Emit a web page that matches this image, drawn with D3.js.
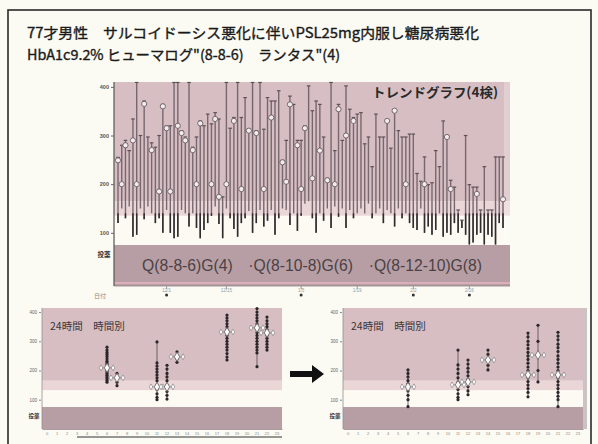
<!DOCTYPE html>
<html><head><meta charset="utf-8">
<script src="https://cdn.jsdelivr.net/npm/d3@7"></script>
<style>body{margin:0;background:#fbfaf3;}svg{display:block}</style>
</head><body>
<svg id="c" width="598" height="444"></svg>
<script>
// ---- header text ----
const titleLine1 = "77才男性　サルコイドーシス悪化に伴いPSL25mg内服し糖尿病悪化";
const titleLine2 = "HbA1c9.2% ヒューマログ\"(8-8-6)　ランタス\"(4)";
const trendTitle = "トレンドグラフ(4検)";
const regimenText = "Q(8-8-6)G(4)　·Q(8-10-8)G(6)　·Q(8-12-10)G(8)";
const dailyTitle = "24時間　時間別";

// ---- trend graph: daily high / low glucose and marked reading (mg/dL) ----
const stemHigh = [
  255,280,290,269,334,409,300,371,297,285,
  276,300,364,320,320,409,409,310,297,409,
  276,297,330,320,344,324,347,334,174,409,
  315,337,409,337,378,313,409,310,409,313,
  378,371,371,392,249,290,381,364,290,290,
  320,402,351,371,364,297,212,409,269,364,
  290,402,354,337,344,
  347,283,297,236,344,297,297,330,274,351,
  310,297,297,303,303,222,206,256,199,203,
  269,236,330,297,208,194,147,126,300,199,
  194,194,147,236,147,147,256,256,256
];
const stemLow = [
  120,150,130,154,92,96,150,128,154,140,
  120,130,100,147,100,89,92,147,140,113,
  140,110,89,106,120,135,154,118,89,150,
  130,108,92,120,130,145,100,120,147,113,
  125,147,96,130,150,147,116,140,104,135,
  160,165,130,100,140,125,150,110,154,133,
  150,110,147,130,140,
  150,140,160,130,140,150,120,147,140,113,
  150,130,140,120,110,106,150,100,113,96,
  106,140,92,100,96,120,100,110,96,76,
  80,96,100,76,96,92,76,120,110
];
const stemMark = [
  249,200,280,null,290,200,null,365,null,270,
  null,185,360,315,185,null,320,305,290,null,
  270,200,325,null,null,200,334,174,null,200,
  null,330,null,190,null,310,null,305,null,190,
  null,337,null,null,245,205,364,null,280,190,
  315,null,212,null,269,null,208,null,200,354,
  null,300,null,330,null,
  null,null,null,null,null,null,null,330,null,351,
  null,null,200,null,null,null,null,200,null,null,
  null,null,null,297,190,null,null,null,null,null,
  null,180,null,null,null,null,null,null,169
];
const valueTicks = [100, 200, 300, 400];
const dateTickIndex = [13, 29, 49, 64, 79, 94];
const dateTickLabels = ["12/1", "12/15", "1/5", "1/19", "2/2", "2/16"];
const visitMarks = [true, false, true, false, true, true];

// ---- 24h profiles by hour, before and after the regimen change ----
const hourLabels = ["0","1","2","3","4","5","6","7","8","9","10","11",
                    "12","13","14","15","16","17","18","19","20","21","22","23"];
const beforeHours = ["6","7","11","12","13","18","21","22"];
const beforeReadings = [
  [280,270,262,255,248,240,232,226,220,214,208,202,196,190,184,178,172,166,160],
  [190,175,160,148],
  [298,226,215,205,195,185,175,165,150,135,120,108,100],
  [218,205,190,178,165,150,140,128,115,102],
  [264,250,240,228],
  [390,380,370,360,350,340,330,320,310,300,290,280,270,258,246,236],
  [412,400,390,380,370,360,350,340,330,320,310,300,290,280,270,260,213],
  [383,370,360,350,340,330,320,310,300,290,280,270]
];
const beforeMean = [209, 175, 144, 144, 247, 332, 346, 329];
const afterHours = ["6","11","12","14","18","19","21"];
const afterReadings = [
  [202,190,178,165,155,145,130,115,100,76],
  [270,219,205,190,175,160,148,135,120,108,100],
  [236,222,208,195,182,170,158,145,130,117],
  [270,255,236,218,202],
  [328,315,300,288,275,262,250,238,225,212,200,188,175,162,150,138,125,110],
  [355,300,253,200,161],
  [331,318,305,290,278,265,250,238,225,212,200,188,175,162,150,138,125,112,100,76]
];
const afterMean = [144, 151, 161, 236, 185, 253, 185];

// ---- colours ----
const C = {
  page: "#fbfaf3", pink: "#d6bec2", pinkLight: "#ead5d7", white: "#fcfaf3",
  band: "#b79ea4", stem: "#776870", stemDark: "#2f2a2c", text: "#1a1a1a"
};
const JP = "'Noto Sans CJK JP','Noto Sans',sans-serif";
const SANS = "'Liberation Sans',Arial,sans-serif";

const svg = d3.select("#c");
svg.append("rect").attr("width", 598).attr("height", 444).attr("fill", C.page);

// slide frame
svg.append("rect").attr("x", 8).attr("y", 10).attr("width", 583).attr("height", 445)
  .attr("fill", "none").attr("stroke", "#2a2a2a").attr("stroke-width", 1.6);

// title
[[titleLine1, 38, 452], [titleLine2, 60, 313]].forEach(([t, y, w]) =>
  svg.append("text").attr("x", 27).attr("y", y).attr("font-family", JP).attr("font-size", 14)
    .attr("fill", C.text).attr("stroke", C.text).attr("stroke-width", 0.35)
    .attr("textLength", w).attr("lengthAdjust", "spacingAndGlyphs").text(t));

// ================= trend graph =================
const T = { left: 114, right: 510, top: 82, plotBottom: 245, bottom: 286 };
const yT = d3.scaleLinear().domain([75, 410]).range([T.plotBottom, T.top]).clamp(true);
const xT = d3.scaleLinear().domain([0, stemHigh.length - 1]).range([118, 503]);
const trend = svg.append("g");

// target-range shading
trend.append("rect").attr("x", T.left).attr("y", T.top).attr("width", T.right - T.left)
  .attr("height", yT(165) - T.top).attr("fill", C.pink);
trend.append("rect").attr("x", T.left).attr("y", yT(165)).attr("width", T.right - T.left)
  .attr("height", yT(135) - yT(165)).attr("fill", C.pinkLight);
trend.append("rect").attr("x", T.left).attr("y", yT(135)).attr("width", T.right - T.left)
  .attr("height", T.plotBottom - yT(135)).attr("fill", C.white);
trend.append("rect").attr("x", T.right - 6).attr("y", T.top).attr("width", 6)
  .attr("height", T.plotBottom - T.top).attr("fill", "#fff").attr("opacity", 0.25);

// insulin band
trend.append("rect").attr("x", T.left).attr("y", T.plotBottom).attr("width", T.right - T.left)
  .attr("height", T.bottom - T.plotBottom).attr("fill", C.band);
trend.append("rect").attr("x", T.left).attr("y", T.bottom - 4).attr("width", T.right - T.left)
  .attr("height", 2).attr("fill", "#dcb0ba");
trend.append("text").attr("x", 142).attr("y", 271).attr("font-family", SANS).attr("font-size", 17)
  .attr("fill", "#4a4245").attr("textLength", 340).attr("lengthAdjust", "spacingAndGlyphs")
  .text(regimenText);

// stems: grey over the whole range, darker where they reach the low zone
const stems = trend.append("g");
stemHigh.forEach((hi, i) => {
  const lo = stemLow[i], x = xT(i);
  stems.append("line").attr("x1", x).attr("x2", x).attr("y1", yT(lo)).attr("y2", yT(hi))
    .attr("stroke", C.stem).attr("stroke-width", 1.4);
  if (lo < 140) stems.append("line").attr("x1", x).attr("x2", x)
    .attr("y1", yT(lo)).attr("y2", yT(Math.min(hi, 140)))
    .attr("stroke", C.stemDark).attr("stroke-width", 1.5);
  stems.append("line").attr("x1", x - 1.8).attr("x2", x + 1.8).attr("y1", yT(hi)).attr("y2", yT(hi))
    .attr("stroke", "#5e5157").attr("stroke-width", 1.2);
});
stems.selectAll("circle").data(stemMark.map((v, i) => ({ v, i })).filter(d => d.v != null))
  .join("circle").attr("cx", d => xT(d.i)).attr("cy", d => yT(d.v)).attr("r", 2.6)
  .attr("fill", "#f3ecee").attr("stroke", "#6a5b61").attr("stroke-width", 0.9);

// axis
trend.append("line").attr("x1", T.left).attr("x2", T.left).attr("y1", T.top).attr("y2", T.bottom)
  .attr("stroke", "#555").attr("stroke-width", 1.2);
trend.append("line").attr("x1", T.left).attr("x2", T.right).attr("y1", T.bottom).attr("y2", T.bottom)
  .attr("stroke", "#8d8185").attr("stroke-width", 0.8);
trend.append("g").attr("transform", `translate(${T.left},0)`)
  .call(d3.axisLeft(yT).tickValues(valueTicks).tickSize(3).tickPadding(2))
  .call(g => g.select(".domain").remove())
  .call(g => g.selectAll("line").attr("stroke", "#666"))
  .call(g => g.selectAll("text").attr("font-size", 5.5).attr("font-weight", "bold")
    .attr("fill", "#555").attr("font-family", SANS));
trend.append("text").attr("x", 104).attr("y", 257).attr("text-anchor", "middle")
  .attr("font-family", JP).attr("font-size", 6.5).attr("font-weight", "bold").attr("fill", "#333").text("投薬");
trend.append("text").attr("x", 100).attr("y", 298).attr("text-anchor", "middle")
  .attr("font-family", JP).attr("font-size", 6).attr("fill", "#888").text("日付");
dateTickIndex.forEach((idx, k) => {
  const x = xT(idx);
  trend.append("line").attr("x1", x).attr("x2", x).attr("y1", T.bottom).attr("y2", T.bottom + 3)
    .attr("stroke", "#999");
  trend.append("text").attr("x", x).attr("y", 292).attr("text-anchor", "middle")
    .attr("font-family", SANS).attr("font-size", 4.5).attr("fill", "#999").text(dateTickLabels[k]);
  if (visitMarks[k]) trend.append("circle").attr("cx", x).attr("cy", 295).attr("r", 1.5).attr("fill", "#333");
});
trend.append("text").attr("x", 372).attr("y", 97).attr("font-family", JP).attr("font-size", 13)
  .attr("font-weight", "bold").attr("fill", "#2a2a2a").attr("textLength", 126)
  .attr("lengthAdjust", "spacingAndGlyphs").text(trendTitle);

// ================= 24h charts =================
function dailyChart(x0, hoursShown, readings, means, underline) {
  const P = { left: x0, right: x0 + 240, top: 308, plotBottom: 407, bottom: 429 };
  const y = d3.scaleLinear().domain([75, 414]).range([P.plotBottom, P.top]).clamp(true);
  const x = d3.scaleBand().domain(hourLabels).range([P.left, P.right]);
  const g = svg.append("g");
  g.append("rect").attr("x", P.left).attr("y", P.top).attr("width", 240)
    .attr("height", y(165) - P.top).attr("fill", C.pink);
  g.append("rect").attr("x", P.left).attr("y", y(165)).attr("width", 240)
    .attr("height", y(132) - y(165)).attr("fill", C.pinkLight);
  g.append("rect").attr("x", P.left).attr("y", y(132)).attr("width", 240)
    .attr("height", P.plotBottom - y(132)).attr("fill", C.white);
  g.append("rect").attr("x", P.left).attr("y", P.plotBottom).attr("width", 240)
    .attr("height", P.bottom - P.plotBottom).attr("fill", C.band);
  g.append("line").attr("x1", P.left).attr("x2", P.left).attr("y1", P.top).attr("y2", P.bottom)
    .attr("stroke", "#9a8c91").attr("stroke-width", 0.8);
  g.append("g").attr("transform", `translate(${P.left - 1},0)`)
    .call(d3.axisLeft(y).tickValues(valueTicks).tickSize(2).tickPadding(2))
    .call(a => a.select(".domain").remove())
    .call(a => a.selectAll("line").attr("stroke", "#888"))
    .call(a => a.selectAll("text").attr("font-size", 4.5).attr("fill", "#666").attr("font-family", SANS));
  g.append("text").attr("x", P.left - 8).attr("y", 418).attr("text-anchor", "middle")
    .attr("font-family", JP).attr("font-size", 5.5).attr("font-weight", "bold").attr("fill", "#333").text("投薬");
  g.append("g").attr("transform", `translate(0,${P.bottom})`)
    .call(d3.axisBottom(x).tickSize(0).tickPadding(3))
    .call(a => a.select(".domain").attr("stroke", "#a99ca0"))
    .call(a => a.selectAll("text").attr("font-size", 4).attr("fill", "#888").attr("font-family", SANS));
  if (underline) g.append("line").attr("x1", underline).attr("x2", P.right).attr("y1", 437).attr("y2", 437)
    .attr("stroke", "#333").attr("stroke-width", 1.2);
  g.append("text").attr("x", P.left + 8).attr("y", 330).attr("font-family", JP).attr("font-size", 10.5)
    .attr("fill", "#3c3538").text(dailyTitle);

  hoursShown.forEach((h, k) => {
    const cx = x(h) + x.bandwidth() / 2, vals = readings[k];
    g.append("line").attr("x1", cx).attr("x2", cx)
      .attr("y1", y(d3.min(vals))).attr("y2", y(d3.max(vals)))
      .attr("stroke", "#6d6065").attr("stroke-width", 1);
    g.selectAll(null).data(vals).join("circle").attr("cx", cx).attr("cy", v => y(v)).attr("r", 1.6)
      .attr("fill", "#2b2629");
    const my = y(means[k]);
    g.append("line").attr("x1", cx - 7).attr("x2", cx + 7).attr("y1", my).attr("y2", my)
      .attr("stroke", "#8b7e83").attr("stroke-width", 0.8);
    [-6, 6].forEach(dx => g.append("path")
      .attr("d", d3.symbol(d3.symbolDiamond, 10)())
      .attr("transform", `translate(${cx + dx},${my})`).attr("fill", "#fff").attr("stroke", "#777").attr("stroke-width", 0.6));
    g.append("path").attr("d", d3.symbol(d3.symbolDiamond, 24)())
      .attr("transform", `translate(${cx},${my})`).attr("fill", "#fff").attr("stroke", "#666").attr("stroke-width", 0.8);
  });
  return P;
}
dailyChart(42, beforeHours, beforeReadings, beforeMean, 77);
const right = dailyChart(343, afterHours, afterReadings, afterMean, null);
svg.append("rect").attr("x", right.right).attr("y", 308).attr("width", 4).attr("height", 121)
  .attr("fill", "#c9c3c5");

// arrow between the two profiles
svg.append("path")
  .attr("d", "M290,371 L312,371 L312,365 L324,374 L312,383 L312,377 L290,377 Z")
  .attr("fill", "#111");
</script>
</body></html>
